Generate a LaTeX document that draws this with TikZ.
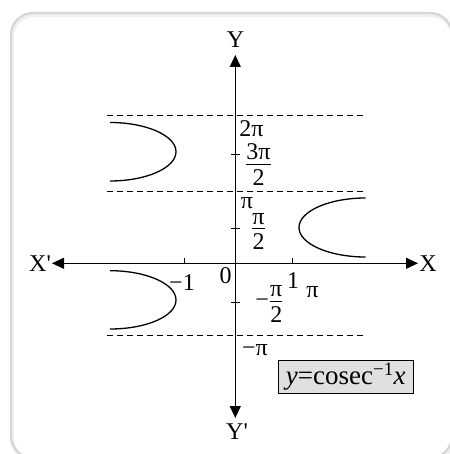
\documentclass[tikz,border=0pt]{standalone}
\usepackage{fontspec}
\setmainfont{Liberation Serif}[Ligatures=TeXOff]
\usetikzlibrary{arrows.meta}
\newcommand{\myfrac}[2]{$\textstyle\frac{\mbox{\raisebox{0pt}[\height][3.5bp]{#1}}}{\mbox{\raisebox{0pt}[20.5bp][0pt]{#2}}}$}
\begin{document}
\begin{tikzpicture}[x=1bp,y=-1bp,
  lbl/.style={inner sep=0pt,font=\fontsize{24bp}{28bp}\selectfont},
  axisline/.style={line width=1.2bp,{Triangle[length=12bp,width=11bp]}-{Triangle[length=12bp,width=11bp]}},
  asym/.style={line width=0.8bp,dash pattern=on 6bp off 4bp},
  curveline/.style={line width=1.3bp},
  tickline/.style={line width=1bp}]
\useasboundingbox (0,0) rectangle (450,454);
\begin{scope}
\clip (0,0) rectangle (450,454);
\draw[line width=4bp,black!6,rounded corners=22bp] (12,15) rectangle (453,460);
\draw[line width=2.2bp,black!16,rounded corners=22bp] (11,13) rectangle (452,458);
\end{scope}
% dashed asymptotes
\coordinate (d1a) at (107,115.7); \coordinate (d1b) at (367,115.7);
\coordinate (d2a) at (107,191);   \coordinate (d2b) at (367,191);
\coordinate (d3a) at (107,335.7); \coordinate (d3b) at (367,335.7);
\draw[asym] (d1a) -- (d1b);
\draw[asym] (d2a) -- (d2b);
\draw[asym] (d3a) -- (d3b);
% axes
\coordinate (xl) at (52,263.3); \coordinate (xr) at (418,263.3);
\coordinate (yt) at (235.3,55); \coordinate (yb) at (235.3,418);
\draw[axisline] (xl) -- (xr);
\draw[axisline] (yb) -- (yt);
% ticks
\draw[tickline] (231,155) -- (240,155);
\draw[tickline] (231,228.3) -- (240,228.3);
\draw[tickline] (231,302.7) -- (240,302.7);
\draw[tickline] (184,258) -- (184,263.3);
\draw[tickline] (292.3,258) -- (292.3,263.3);
% curves
\draw[curveline] (110,122.5) .. controls (146.4,122.5) and (176,135.6) .. (176,151.7)
  .. controls (176,167.8) and (146.4,181) .. (110,181);
\draw[curveline] (365.7,198) .. controls (329,198) and (299,211.2) .. (299,227.5)
  .. controls (299,243.8) and (329,257) .. (365.7,257);
\draw[curveline] (110,270.7) .. controls (146.4,270.7) and (176,283.8) .. (176,300)
  .. controls (176,316.2) and (146.4,329) .. (110,329);
% labels
\node[lbl] (ly) at (235.5,40) {Y};
\node[lbl] (lyp) at (237,432) {Y'};
\node[lbl] (lxp) at (40,263.5) {X'};
\node[lbl] (lx) at (428,263.5) {X};
\node[lbl] (l2pi) at (251.5,128.5) {2π};
\node[lbl] (l3pi2) at (258.5,164.5) {\myfrac{3π}{2}};
\node[lbl] (lpi) at (247,203) {π};
\node[lbl] (lpi2) at (258.5,231.5) {\myfrac{π}{2}};
\node[lbl] (l0) at (225.5,276) {0};
\node[lbl] (lm1) at (182,283) {−1};
\node[lbl] (l1) at (293,281) {1};
\node[lbl] (lpib) at (312.5,292) {π};
\node[lbl] (lmpi2) at (269.5,304) {−\myfrac{π}{2}};
\node[lbl] (lmpi) at (255,350) {−π};
\node[lbl,draw,line width=1.3bp,fill=black!12,minimum width=135bp,minimum height=33bp,
  font=\fontsize{27bp}{31bp}\selectfont]
  (eq) at (345.8,376.7) {\itshape y\upshape=cosec\textsuperscript{−1}\itshape x};
\end{tikzpicture}
\end{document}
